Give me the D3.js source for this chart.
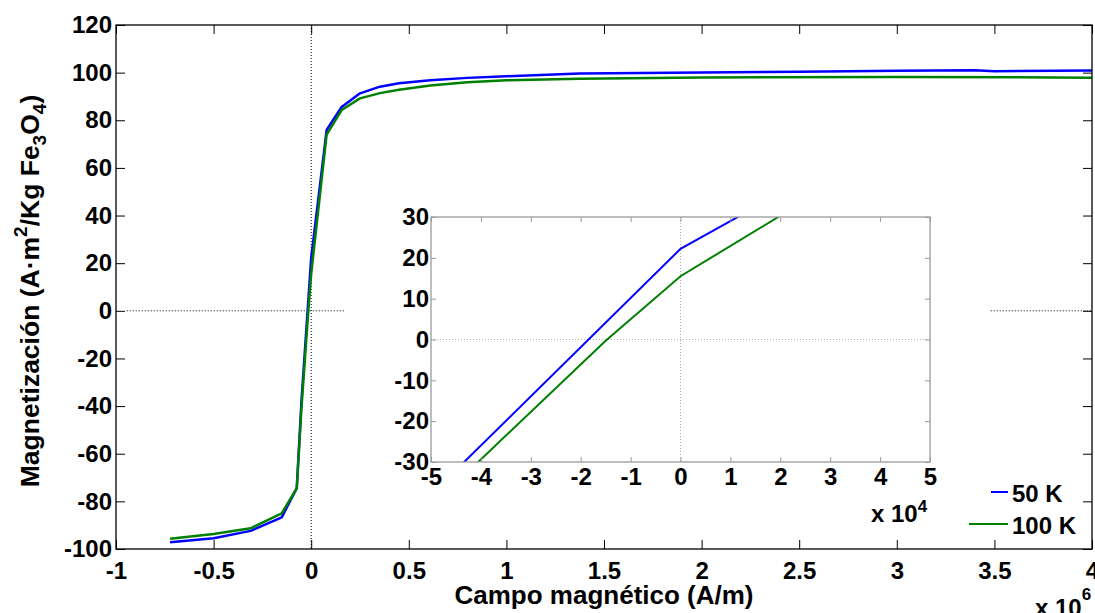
<!DOCTYPE html>
<html>
<head>
<meta charset="utf-8">
<script src="https://cdn.jsdelivr.net/npm/d3@7"></script>
<style>
  body { margin: 0; background: #fff; }
  text { font-family: "Liberation Sans", Arial, sans-serif; font-weight: bold; fill: #000; }
</style>
</head>
<body>
<svg id="chart" width="1095" height="613"></svg>
<script>
// Magnetization curves of Fe3O4 at two temperatures (field in A/m, M in A·m²/kg)
const field50 = [-723000, -500000, -310000, -151000, -74000, -50000, 0, 79000, 156000, 250000,
                 352000, 450000, 610000, 800000, 1000000, 1377000, 2000000, 2500000, 3000000,
                 3400000, 3500000, 3800000, 4000000];
const mag50   = [-97.2, -95.5, -92.4, -86.7, -74.5, -38.0, 22.2, 75.9, 85.6, 91.3,
                 94.1, 95.5, 96.8, 97.8, 98.5, 99.6, 100.1, 100.4, 100.8,
                 101.0, 100.6, 100.8, 100.9];

const field100 = [-723000, -500000, -310000, -151000, -74000, -50000, -15000, 0, 79000, 156000,
                  250000, 352000, 450000, 610000, 800000, 1000000, 1377000, 2000000, 3000000, 4000000];
const mag100   = [-95.7, -93.7, -91.3, -85.0, -74.5, -41.0, -0.3, 15.5, 74.0, 84.3,
                  89.2, 91.4, 92.8, 94.6, 96.0, 96.8, 97.4, 98.0, 98.2, 97.9];

const seriesNames  = ["50 K", "100 K"];
const seriesColors = ["#0000ff", "#008000"];

const mainXTicks  = [-1, -0.5, 0, 0.5, 1, 1.5, 2, 2.5, 3, 3.5, 4];   // ×10^6
const mainYTicks  = [-100, -80, -60, -40, -20, 0, 20, 40, 60, 80, 100, 120];
const insetXTicks = [-5, -4, -3, -2, -1, 0, 1, 2, 3, 4, 5];          // ×10^4
const insetYTicks = [-30, -20, -10, 0, 10, 20, 30];

const series = [
  { name: seriesNames[0], color: seriesColors[0], pts: field50.map((f, i) => [f, mag50[i]]) },
  { name: seriesNames[1], color: seriesColors[1], pts: field100.map((f, i) => [f, mag100[i]]) }
];

const svg = d3.select("#chart");
const FS = 24;
const plain = v => String(v);   // hyphen-minus labels

// ---------- main axes ----------
const M = { left: 116, right: 1092, top: 25, bottom: 549 };
const x = d3.scaleLinear().domain([-1e6, 4e6]).range([M.left, M.right]);
const y = d3.scaleLinear().domain([-100, 120]).range([M.bottom, M.top]);

const main = svg.append("g");

// zero reference lines
main.append("line")
  .attr("x1", x(0)).attr("x2", x(0)).attr("y1", M.top).attr("y2", M.bottom)
  .attr("stroke", "#000").attr("stroke-width", 1).attr("stroke-dasharray", "1,2");
main.append("line")
  .attr("x1", x(-0.945e6)).attr("x2", M.right).attr("y1", y(0)).attr("y2", y(0))
  .attr("stroke", "#000").attr("stroke-width", 1).attr("stroke-dasharray", "1,2");

const line = d3.line().x(d => x(d[0])).y(d => y(d[1]));
main.selectAll("path.curve").data(series).join("path")
  .attr("class", "curve")
  .attr("d", d => line(d.pts))
  .attr("fill", "none").attr("stroke", d => d.color).attr("stroke-width", 2.5)
  .attr("stroke-linejoin", "round");

const stripDomain = g => g.select(".domain").remove();

main.append("g").attr("transform", `translate(0,${M.bottom})`)
  .call(d3.axisBottom(x).tickValues(mainXTicks.map(v => v * 1e6))
        .tickFormat(v => plain(Math.round(v / 1e5) / 10))
        .tickSize(-9).tickPadding(13))
  .call(stripDomain)
  .call(g => g.selectAll("text").style("font-size", FS + "px").attr("fill", "#000"))
  .call(g => g.selectAll("line").attr("stroke", "#000"));
main.append("g").attr("transform", `translate(0,${M.top})`)
  .call(d3.axisTop(x).tickValues(mainXTicks.map(v => v * 1e6)).tickFormat("").tickSize(-9))
  .call(stripDomain)
  .call(g => g.selectAll("line").attr("stroke", "#000"));
main.append("g").attr("transform", `translate(${M.left},0)`)
  .call(d3.axisLeft(y).tickValues(mainYTicks).tickFormat(plain).tickSize(-9).tickPadding(4))
  .call(stripDomain)
  .call(g => g.selectAll("text").style("font-size", FS + "px").attr("fill", "#000"))
  .call(g => g.selectAll("line").attr("stroke", "#000"));
main.append("g").attr("transform", `translate(${M.right},0)`)
  .call(d3.axisRight(y).tickValues(mainYTicks).tickFormat("").tickSize(-9))
  .call(stripDomain)
  .call(g => g.selectAll("line").attr("stroke", "#000"));
main.append("rect")
  .attr("x", M.left).attr("y", M.top).attr("width", M.right - M.left).attr("height", M.bottom - M.top)
  .attr("fill", "none").attr("stroke", "#000").attr("stroke-width", 1.3);

// axis titles
svg.append("text").attr("x", 604).attr("y", 604).attr("text-anchor", "middle")
  .style("font-size", "26px").text("Campo magnético (A/m)");

const yt = svg.append("text")
  .attr("transform", "translate(39,291) rotate(-90)")
  .attr("text-anchor", "middle").style("font-size", "26.5px");
yt.append("tspan").text("Magnetización (A·m");
yt.append("tspan").attr("dy", -12).style("font-size", "19px").text("2");
yt.append("tspan").attr("dy", 12).text("/Kg Fe");
yt.append("tspan").attr("dy", 7).style("font-size", "19px").text("3");
yt.append("tspan").attr("dy", -7).text("O");
yt.append("tspan").attr("dy", 7).style("font-size", "19px").text("4");
yt.append("tspan").attr("dy", -7).text(")");

// exponent for main x axis
const ex6 = svg.append("text").attr("x", 1035).attr("y", 616).style("font-size", "24px");
ex6.append("tspan").text("x 10");
ex6.append("tspan").attr("dy", -16).style("font-size", "17px").text("6");

// ---------- inset ----------
const I = { left: 431, right: 930, top: 217, bottom: 462 };
const xi = d3.scaleLinear().domain([-5e4, 5e4]).range([I.left, I.right]);
const yi = d3.scaleLinear().domain([-30, 30]).range([I.bottom, I.top]);

const inset = svg.append("g");
inset.append("rect").attr("x", 345).attr("y", 190).attr("width", 645).attr("height", 345).attr("fill", "#fff");

svg.append("clipPath").attr("id", "insetClip").append("rect")
  .attr("x", I.left).attr("y", I.top).attr("width", I.right - I.left).attr("height", I.bottom - I.top);

inset.append("line")
  .attr("x1", xi(0)).attr("x2", xi(0)).attr("y1", I.top).attr("y2", I.bottom)
  .attr("stroke", "#b0b0b0").attr("stroke-width", 1).attr("stroke-dasharray", "1,2");
inset.append("line")
  .attr("x1", I.left).attr("x2", I.right).attr("y1", yi(0)).attr("y2", yi(0))
  .attr("stroke", "#b0b0b0").attr("stroke-width", 1).attr("stroke-dasharray", "1,2");

const lineI = d3.line().x(d => xi(d[0])).y(d => yi(d[1]));
inset.append("g").attr("clip-path", "url(#insetClip)")
  .selectAll("path").data(series).join("path")
  .attr("d", d => lineI(d.pts))
  .attr("fill", "none").attr("stroke", d => d.color).attr("stroke-width", 2);

const insetGray = "#9a9a9a";
inset.append("g").attr("transform", `translate(0,${I.bottom})`)
  .call(d3.axisBottom(xi).tickValues(insetXTicks.map(v => v * 1e4))
        .tickFormat(v => plain(Math.round(v / 1e4))).tickSize(-5).tickPadding(6))
  .call(stripDomain)
  .call(g => g.selectAll("text").style("font-size", FS + "px").attr("fill", "#000"))
  .call(g => g.selectAll("line").attr("stroke", insetGray));
inset.append("g").attr("transform", `translate(0,${I.top})`)
  .call(d3.axisTop(xi).tickValues(insetXTicks.map(v => v * 1e4)).tickFormat("").tickSize(-5))
  .call(stripDomain)
  .call(g => g.selectAll("line").attr("stroke", insetGray));
inset.append("g").attr("transform", `translate(${I.left},0)`)
  .call(d3.axisLeft(yi).tickValues(insetYTicks).tickFormat(plain).tickSize(-5).tickPadding(2))
  .call(stripDomain)
  .call(g => g.selectAll("text").style("font-size", FS + "px").attr("fill", "#000"))
  .call(g => g.selectAll("line").attr("stroke", insetGray));
inset.append("g").attr("transform", `translate(${I.right},0)`)
  .call(d3.axisRight(yi).tickValues(insetYTicks).tickFormat("").tickSize(-5))
  .call(stripDomain)
  .call(g => g.selectAll("line").attr("stroke", insetGray));
inset.append("rect")
  .attr("x", I.left).attr("y", I.top).attr("width", I.right - I.left).attr("height", I.bottom - I.top)
  .attr("fill", "none").attr("stroke", insetGray).attr("stroke-width", 1.3);

const ex4 = svg.append("text").attr("x", 871).attr("y", 522).style("font-size", "24px");
ex4.append("tspan").text("x 10");
ex4.append("tspan").attr("dy", -10).style("font-size", "17px").text("4");

// ---------- legend ----------
const legend = svg.append("g");
const legendRows = [
  { y: 492, x1: 991, x2: 1008, tb: 502 },
  { y: 524, x1: 969, x2: 1008, tb: 534 }
];
series.forEach((s, i) => {
  const r = legendRows[i];
  legend.append("line").attr("x1", r.x1).attr("x2", r.x2).attr("y1", r.y).attr("y2", r.y)
    .attr("stroke", s.color).attr("stroke-width", 2);
  legend.append("text").attr("x", 1012).attr("y", r.tb).style("font-size", "24px").text(s.name);
});
</script>
</body>
</html>
